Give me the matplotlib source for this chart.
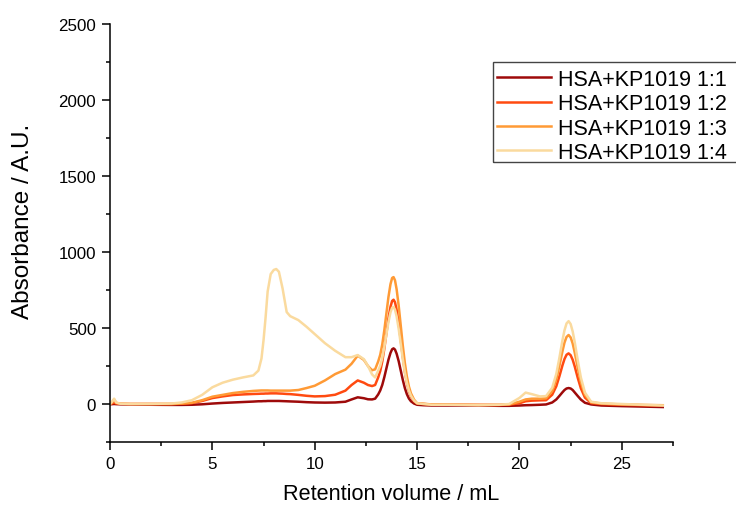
import matplotlib
matplotlib.use("Agg")
import matplotlib.pyplot as plt
from matplotlib.patches import Rectangle
from matplotlib.ticker import MultipleLocator

plt.rcParams['font.family'] = ['Liberation Sans', 'DejaVu Sans']

# Retention volume (mL)
volume = [0, 0.1, 0.2, 0.3, 0.5, 1, 2, 3, 3.5, 4,
          4.5, 5, 5.5, 6, 6.5, 7, 7.25, 7.4, 7.5, 7.6,
          7.7, 7.85, 8.0, 8.12, 8.25, 8.43, 8.63, 8.8, 9.2, 9.6,
          10.0, 10.5, 11.0, 11.5, 11.8, 12.1, 12.4, 12.6, 12.8, 12.95,
          13.1, 13.2, 13.3, 13.4, 13.5, 13.6, 13.7, 13.78, 13.85, 13.92,
          14.0, 14.1, 14.2, 14.3, 14.4, 14.5, 14.6, 14.7, 14.85, 15.0,
          15.3, 15.7, 16.5, 18, 19, 19.5, 20, 20.3, 20.6, 21.0,
          21.3, 21.6, 21.8, 21.95, 22.1, 22.2, 22.3, 22.4, 22.5, 22.6,
          22.7, 22.85, 23.0, 23.2, 23.5, 24, 25, 26, 27]

ratio_1_1 = [-2, -1, 0, -1, -2, -3, -5, -6, -6, -5,
             -2, 3, 7, 10, 13, 16, 18, 18, 19, 19,
             20, 20, 20, 20, 20, 19, 18, 17, 15, 12,
             10, 9, 10, 15, 30, 44, 38, 31, 30, 35,
             63, 89, 126, 177, 234, 291, 336, 360, 366, 358,
             331, 282, 221, 160, 106, 65, 36, 18, 3, -5,
             -8, -10, -10, -10, -12, -12, -10, -8, -7, -5,
             -3, 10, 30, 53, 77, 92, 102, 105, 102, 92,
             76, 52, 29, 8, -3, -10, -14, -17, -20]

ratio_1_2 = [0, 4, 10, 3, 1, 0, 0, 0, 2, 6,
             20, 39, 50, 59, 63, 66, 67, 68, 68, 69,
             69, 70, 70, 70, 69, 68, 66, 65, 60, 54,
             50, 52, 61, 88, 125, 155, 140, 125, 118, 125,
             175, 217, 280, 365, 464, 562, 639, 678, 686, 670,
             621, 532, 422, 311, 214, 139, 85, 49, 18, 3,
             0, -3, -4, -6, -6, -4, 5, 18, 22, 24,
             25, 61, 117, 182, 254, 296, 324, 333, 321, 291,
             247, 171, 103, 42, 6, 0, -5, -8, -10]

ratio_1_3 = [0, 10, 30, 8, 2, 0, 0, 0, 3, 8,
             25, 48, 60, 72, 80, 86, 88, 89, 89, 89,
             89, 88, 88, 88, 88, 88, 88, 88, 92, 105,
             120, 155, 197, 226, 265, 318, 290, 250, 222, 228,
             280, 324, 393, 486, 595, 703, 788, 829, 835, 814,
             755, 648, 518, 387, 272, 181, 115, 70, 29, 5,
             2, -3, -4, -6, -6, -3, 15, 30, 35, 35,
             37, 85, 162, 250, 347, 404, 441, 454, 438, 398,
             338, 236, 144, 60, 11, 3, -3, -6, -8]

ratio_1_4 = [0, 15, 35, 10, 2, 0, 0, 3, 10, 25,
             60, 110, 140, 160, 175, 188, 220, 300, 420, 570,
             740, 855, 882, 888, 870, 760, 605, 578, 552, 508,
             460, 400, 350, 308, 308, 322, 295, 250, 195, 175,
             219, 252, 304, 374, 457, 538, 603, 633, 638, 621,
             577, 495, 397, 296, 208, 140, 89, 54, 22, 5,
             0, -5, -5, -8, -5, 0, 40, 75, 65, 50,
             52, 107, 198, 303, 419, 485, 530, 545, 526, 477,
             407, 285, 174, 75, 15, 5, 0, -5, -10]

series = [ratio_1_1, ratio_1_2, ratio_1_3, ratio_1_4]
labels = ["HSA+KP1019 1:1", "HSA+KP1019 1:2", "HSA+KP1019 1:3", "HSA+KP1019 1:4"]
colors = ["#9E0A0A", "#FF4A10", "#FF9A35", "#FADA9E"]

W, H = 736, 506
fig = plt.figure(figsize=(W / 100, H / 100), dpi=100)
ax = fig.add_axes([110 / W, 1 - 443 / H, 563 / W, 418 / H])

for y, lab, c in zip(series, labels, colors):
    ax.plot(volume, y, color=c, lw=1.8, label=lab, solid_joinstyle='round')

ax.set_xlim(0, 27.5)
ax.set_ylim(-250, 2500)
ax.xaxis.set_major_locator(MultipleLocator(5))
ax.xaxis.set_minor_locator(MultipleLocator(2.5))
ax.yaxis.set_major_locator(MultipleLocator(500))
ax.yaxis.set_minor_locator(MultipleLocator(250))
ax.set_yticks([0, 500, 1000, 1500, 2000, 2500])

for s in ['top', 'right']:
    ax.spines[s].set_visible(False)
for s in ['left', 'bottom']:
    ax.spines[s].set_linewidth(1.1)

ax.tick_params(which='major', direction='out', length=6, width=1.1, labelsize=12.2, pad=4)
ax.tick_params(which='minor', direction='out', length=3, width=1.1)

ax.set_xlabel("Retention volume / mL", fontsize=15.6, labelpad=9)
ax.set_ylabel("Absorbance / A.U.", fontsize=17.5)
ax.yaxis.set_label_coords(-0.135, 0.531)

leg = ax.legend(loc='upper left', bbox_to_anchor=(493 / W, 1 - 66 / H),
                bbox_transform=fig.transFigure, fontsize=15.5, frameon=False,
                borderaxespad=0, handlelength=2.5,
                handletextpad=0.35, labelspacing=0.155, borderpad=0.18)

# legend frame continues past the right edge of the image, as in the reference
fig.add_artist(Rectangle((493 / W, 1 - 163 / H), 260 / W, 100 / H,
                         transform=fig.transFigure, fill=False,
                         edgecolor='#444444', linewidth=1.0, clip_on=False))

fig.savefig("out.png", dpi=100)
